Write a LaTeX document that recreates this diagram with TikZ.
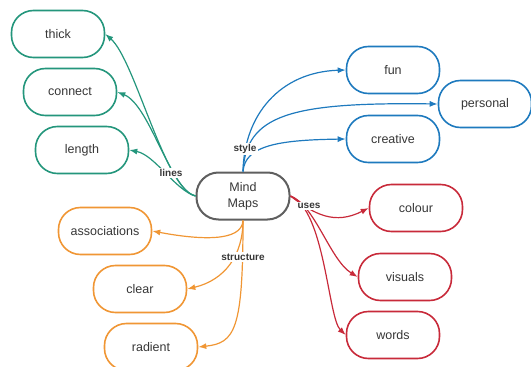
\documentclass[tikz,border=0pt]{standalone}
\usepackage{fontspec}
\setmainfont{Liberation Sans}
\usepackage{tikz}
\usetikzlibrary{shapes, arrows.meta, positioning, calc}
\definecolor{mmgray}{RGB}{95,95,95}
\definecolor{mmtext}{RGB}{55,55,55}
\definecolor{mmgreen}{RGB}{36,150,124}
\definecolor{mmblue}{RGB}{30,122,190}
\definecolor{mmred}{RGB}{200,42,58}
\definecolor{mmorange}{RGB}{240,150,52}
\tikzset{
    topic/.style={
        rectangle, draw, line width=1.6pt, fill=white,
        rounded corners=22pt, minimum width=93pt, minimum height=47pt,
        align=center, text=mmtext, font=\fontsize{12.5}{16}\selectfont
    },
    centre/.style={topic, draw=mmgray, line width=2pt},
    % branch colours
    greenbox/.style={topic, draw=mmgreen},
    bluebox/.style={topic, draw=mmblue},
    redbox/.style={topic, draw=mmred},
    orangebox/.style={topic, draw=mmorange},
    tag/.style={fill=white, inner sep=1.2pt, text=mmtext, font=\fontsize{10}{12}\selectfont\bfseries},
    branch/.style={line width=1.2pt, -{Latex[length=8pt,width=6pt]}}
}
\begin{document}
\begin{tikzpicture}[x=1pt, y=-1pt, node distance=58pt]
    \useasboundingbox (0,0) rectangle (531,367);
        \node (mm) [centre] at (243,196) {Mind\\Maps};

        \node (thick) [greenbox] at (58,34) {thick};
        \node (connect) [greenbox, below of=thick, xshift=12pt] {connect};
        \node (length) [greenbox, below of=connect, xshift=12pt] {length};

        \node (fun) [bluebox] at (393,70) {fun};
        \node (personal) [bluebox] at (485,104) {personal};
        \node (creative) [bluebox, below of=fun, yshift=-11pt] {creative};

        \node (colour) [redbox] at (416,208) {colour};
        \node (visuals) [redbox, below of=colour, xshift=-11pt, yshift=-11pt] {visuals};
        \node (words) [redbox, below of=visuals, xshift=-12pt] {words};

        \node (assoc) [orangebox] at (105,231) {associations};
        \node (clear) [orangebox, below of=assoc, xshift=35pt] {clear};
        \node (radient) [orangebox, below of=clear, xshift=11pt] {radient};

        \draw [branch, mmgreen] (mm.west) .. controls (165,190) and (135,60) .. (thick.east);
        \draw [branch, mmgreen] (mm.west) .. controls (170,190) and (150,105) .. (connect.east);
        \draw [branch, mmgreen] (mm.west) .. controls (175,190) and (155,155) .. (length.east);

        \draw [branch, mmblue] (mm.north) .. controls (244,115) and (280,72) .. (fun.west);
        \draw [branch, mmblue] (mm.north) .. controls (246,115) and (290,102) .. (personal.west);
        \draw [branch, mmblue] (mm.north) .. controls (245,145) and (280,140) .. (creative.west);

        \draw [branch, mmred] (mm.east) .. controls (315,215) and (335,225) .. (colour.west);
        \draw [branch, mmred] (mm.east) .. controls (315,205) and (330,260) .. (visuals.west);
        \draw [branch, mmred] (mm.east) .. controls (325,210) and (328,318) .. (words.west);

        \draw [branch, mmorange] (mm.south) .. controls (242,242) and (200,240) .. (assoc.east);
        \draw [branch, mmorange] (mm.south) .. controls (243,255) and (225,280) .. (clear.east);
        \draw [branch, mmorange] (mm.south) .. controls (243,330) and (235,343) .. (radient.east);

        \node (lines) [tag] at (171,173) {lines};
        \node (style) [tag] at (245,149) {style};
        \node (uses) [tag] at (309,206) {uses};
        \node (structure) [tag] at (243,257) {structure};
    \end{tikzpicture}
\end{document}
